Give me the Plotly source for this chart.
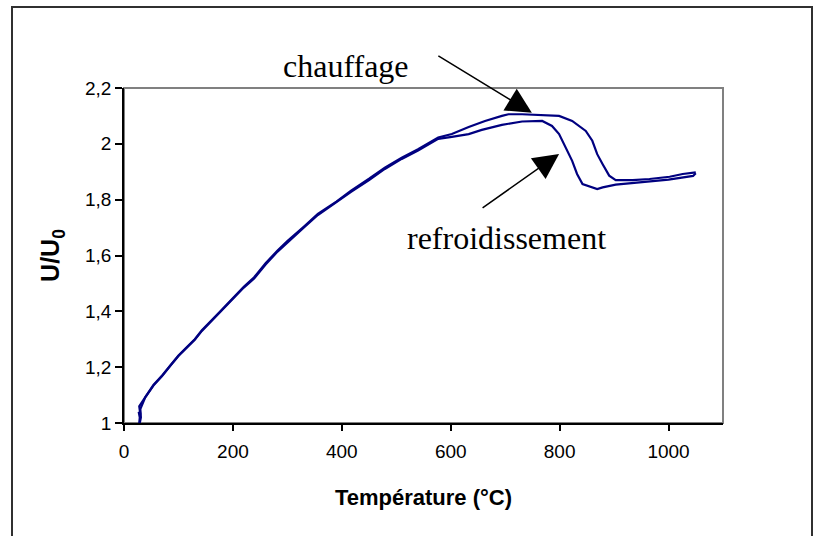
import plotly.graph_objects as go

# Heating curve (chauffage)
heat_T = [28, 29, 27, 30, 28, 39, 54, 70, 85, 100, 116, 130, 143, 160, 177, 202, 220, 239, 260, 282,
          300, 330, 356, 390, 417, 450, 479, 510, 540, 577, 602, 633, 663, 694, 706, 731, 762,
          799, 823, 848, 860, 869, 879, 891, 903, 934, 965, 1002, 1026, 1050]
heat_U = [1.00, 1.02, 1.04, 1.03, 1.06, 1.094, 1.136, 1.170, 1.207, 1.242, 1.273, 1.300, 1.332, 1.365,
          1.400, 1.451, 1.488, 1.522, 1.572, 1.618, 1.652, 1.703, 1.749, 1.793, 1.832, 1.875, 1.915,
          1.950, 1.981, 2.023, 2.035, 2.060, 2.082, 2.100, 2.106, 2.106, 2.104, 2.100, 2.082, 2.046,
          2.011, 1.963, 1.927, 1.886, 1.870, 1.870, 1.874, 1.882, 1.892, 1.898]

# Cooling curve (refroidissement)
cool_T = [1050, 1045, 1000, 965, 934, 903, 879, 869, 842, 832, 823, 811, 799, 786, 768, 731, 694,
          657, 633, 602, 577, 540, 510, 479, 450, 417, 390, 356, 330, 300, 282, 260, 239, 220, 202,
          177, 160, 143, 130, 116, 100, 85, 70, 54, 39, 30, 31, 29]
cool_U = [1.895, 1.885, 1.872, 1.866, 1.862, 1.854, 1.844, 1.838, 1.856, 1.892, 1.939, 1.987, 2.035,
          2.064, 2.082, 2.080, 2.068, 2.050, 2.035, 2.025, 2.018, 1.976, 1.946, 1.910, 1.870, 1.828,
          1.790, 1.745, 1.700, 1.648, 1.614, 1.568, 1.518, 1.485, 1.448, 1.397, 1.362, 1.330, 1.298,
          1.270, 1.240, 1.205, 1.168, 1.134, 1.092, 1.05, 1.02, 1.00]

x_ticks = [0, 200, 400, 600, 800, 1000]
y_ticks = [1, 1.2, 1.4, 1.6, 1.8, 2, 2.2]

NAVY = "#000080"
fig = go.Figure()
fig.add_trace(go.Scatter(x=heat_T, y=heat_U, mode="lines", name="chauffage",
                         line=dict(color=NAVY, width=2.2)))
fig.add_trace(go.Scatter(x=cool_T, y=cool_U, mode="lines", name="refroidissement",
                         line=dict(color=NAVY, width=2.2)))

L, R, T, B = 124, 91, 88, 113
W, H = 814, 536
pw, ph = W - L - R, H - T - B

def px(xp):
    return (xp - L) / pw

def py(yp):
    return (H - B - yp) / ph

SERIF = "Liberation Serif, Times New Roman"

fig.update_layout(
    width=W, height=H,
    margin=dict(l=L, r=R, t=T, b=B),
    paper_bgcolor="white", plot_bgcolor="white",
    showlegend=False,
    separators=", ",
    font=dict(family="Liberation Sans, Arial", size=19, color="black"),
    xaxis=dict(range=[0, 1100], tickvals=x_ticks, showgrid=False, zeroline=False,
               showline=True, linecolor="black", linewidth=1.5,
               ticks="outside", ticklen=6, tickcolor="black", tickwidth=1.5,
               ticklabelstandoff=4,
               title=dict(text="<b>Température (°C)</b>", font=dict(size=22), standoff=29)),
    yaxis=dict(range=[1, 2.2], tickvals=y_ticks, showgrid=False, zeroline=False,
               showline=True, linecolor="black", linewidth=1.5,
               ticks="outside", ticklen=7, tickcolor="black", tickwidth=1.5,
               title=dict(text="<b>U/U<sub>0</sub></b>", font=dict(size=25), standoff=18)),
    shapes=[
        dict(type="rect", xref="paper", yref="paper", x0=0, x1=1, y0=0, y1=1,
             line=dict(color="#808080", width=2), layer="below"),
        dict(type="rect", xref="paper", yref="paper",
             x0=px(12), x1=px(812), y0=py(545), y1=py(7),
             line=dict(color="#303030", width=2), layer="below"),
    ],
    annotations=[
        dict(text="chauffage", xref="paper", yref="paper", x=px(346), y=py(46),
             showarrow=False, font=dict(family=SERIF, size=32)),
        dict(text="refroidissement", xref="paper", yref="paper", x=px(506), y=py(238),
             showarrow=False, font=dict(family=SERIF, size=32)),
        dict(text="", x=749, y=2.111, xref="x", yref="y", showarrow=True,
             ax=-95, ay=-58, arrowhead=2, arrowsize=3.4, arrowwidth=1.5, arrowcolor="black"),
        dict(text="", x=799, y=1.964, xref="x", yref="y", showarrow=True,
             ax=-78, ay=55, arrowhead=2, arrowsize=3.4, arrowwidth=1.5, arrowcolor="black"),
    ],
)

fig.write_html("out.html", config={"displayModeBar": False},
               post_script="document.body.style.margin='0';")
